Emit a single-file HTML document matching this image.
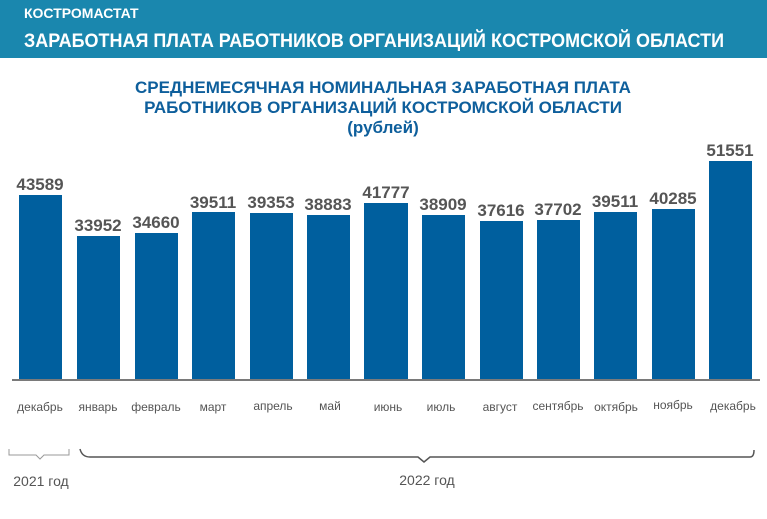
<!DOCTYPE html><html><head><meta charset="utf-8"><style>
body{margin:0;width:767px;height:514px;background:#fff;overflow:hidden;font-family:"Liberation Sans",Arial,sans-serif}
</style></head><body>
<svg width="767" height="514" xmlns="http://www.w3.org/2000/svg" font-family="Liberation Sans, Arial, sans-serif">
<rect x="0" y="0" width="767" height="58" fill="#1a87ae"/>
<text x="24" y="18" fill="#fff" font-size="14" font-weight="bold">КОСТРОМАСТАТ</text>
<text x="24" y="47" fill="#fff" font-size="19" font-weight="bold" textLength="700" lengthAdjust="spacingAndGlyphs">ЗАРАБОТНАЯ ПЛАТА РАБОТНИКОВ ОРГАНИЗАЦИЙ КОСТРОМСКОЙ ОБЛАСТИ</text>
<g fill="#0e5f9c" font-size="17" font-weight="bold" text-anchor="middle">
<text x="383" y="93">СРЕДНЕМЕСЯЧНАЯ НОМИНАЛЬНАЯ ЗАРАБОТНАЯ ПЛАТА</text>
<text x="383" y="113">РАБОТНИКОВ ОРГАНИЗАЦИЙ КОСТРОМСКОЙ ОБЛАСТИ</text>
<text x="383" y="133">(рублей)</text>
</g>
<g fill="#005f9e">
<rect x="19" y="195" width="43" height="184"/>
<rect x="77" y="236" width="43" height="143"/>
<rect x="135" y="233" width="43" height="146"/>
<rect x="192" y="212" width="43" height="167"/>
<rect x="250" y="213" width="43" height="166"/>
<rect x="307" y="215" width="43" height="164"/>
<rect x="364" y="203" width="44" height="176"/>
<rect x="422" y="215" width="43" height="164"/>
<rect x="480" y="221" width="43" height="158"/>
<rect x="537" y="220" width="43" height="159"/>
<rect x="594" y="212" width="43" height="167"/>
<rect x="652" y="209" width="43" height="170"/>
<rect x="709" y="161" width="43" height="218"/>
</g>
<line x1="12" y1="380" x2="760" y2="380" stroke="#7a7a7a" stroke-width="2"/>
<g fill="#555" font-size="17" font-weight="bold" text-anchor="middle">
<text x="40" y="190">43589</text>
<text x="98" y="231">33952</text>
<text x="156" y="228">34660</text>
<text x="213" y="208">39511</text>
<text x="271" y="208">39353</text>
<text x="328" y="210">38883</text>
<text x="386" y="198">41777</text>
<text x="443" y="210">38909</text>
<text x="501" y="216">37616</text>
<text x="558" y="215">37702</text>
<text x="615" y="207">39511</text>
<text x="673" y="204">40285</text>
<text x="730" y="156">51551</text>
</g>
<g fill="#555" font-size="12" text-anchor="middle">
<text x="40" y="411">декабрь</text>
<text x="98" y="411">январь</text>
<text x="156" y="411">февраль</text>
<text x="213" y="411">март</text>
<text x="273" y="410">апрель</text>
<text x="330" y="410">май</text>
<text x="388" y="411">июнь</text>
<text x="441" y="411">июль</text>
<text x="500" y="411">август</text>
<text x="558" y="410">сентябрь</text>
<text x="616" y="411">октябрь</text>
<text x="673" y="409">ноябрь</text>
<text x="733" y="410">декабрь</text>
</g>
<path d="M9,449 L9,455 L36,455 L40,459 L44,455 L69,455 L69,449" fill="none" stroke="#999" stroke-width="1"/>
<path d="M80,449 Q82,457 90,457 L418,457 L424,462 L430,457 L750,457 Q754,457 754,450" fill="none" stroke="#555" stroke-width="1.5"/>
<g fill="#555" font-size="14" text-anchor="middle">
<text x="41" y="486">2021 год</text>
<text x="427" y="485">2022 год</text>
</g>
</svg>
</body></html>
